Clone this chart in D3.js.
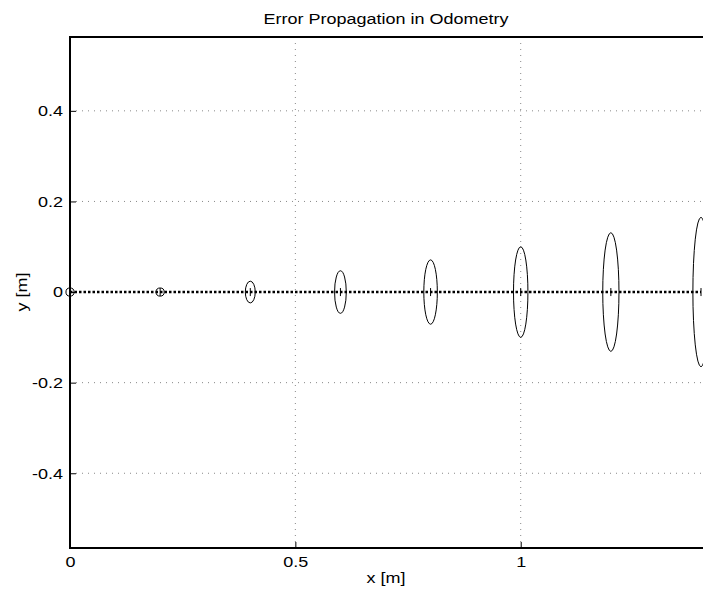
<!DOCTYPE html>
<html>
<head>
<meta charset="utf-8">
<script src="https://cdn.jsdelivr.net/npm/d3@7"></script>
<style>
  body { margin: 0; background: #fff; }
  svg { display: block; font-family: "Liberation Sans", Arial, sans-serif; }
</style>
</head>
<body>
<svg width="703" height="589"></svg>
<script>
// ---- data
const pathX = [0, 1.4];                       // straight odometry path along y = 0
const centersX = [0, 0.2, 0.4, 0.6, 0.8, 1.0, 1.2, 1.4];
const semiX = [0.009, 0.009, 0.011, 0.013, 0.015, 0.016, 0.018, 0.018];
const semiY = [0.009, 0.009, 0.024, 0.047, 0.071, 0.100, 0.131, 0.165];
const xTicks = [0, 0.5, 1];
const yTicks = [-0.4, -0.2, 0, 0.2, 0.4];

const svg = d3.select('svg');
const margin = { left: 70, top: 37, right: -4, bottom: 41 };
const W = 703, H = 589;
const innerW = W - margin.left - margin.right;
const innerH = H - margin.top - margin.bottom;
const FS = 15, SX = 1.2;   // text is drawn a little wide in the reference

const x = d3.scaleLinear().domain([0, 1.4]).range([0, 631]);
const y = d3.scaleLinear().domain([-0.565, 0.563]).range([innerH, 0]);

const g = svg.append('g').attr('transform', `translate(${margin.left},${margin.top})`);

// ---- grid
g.append('g').selectAll('line').data(xTicks.filter(d => d > 0)).join('line')
  .attr('x1', d => x(d)).attr('x2', d => x(d)).attr('y1', 0).attr('y2', innerH)
  .attr('stroke', '#888').attr('stroke-width', 1).attr('stroke-dasharray', '1 5');
g.append('g').selectAll('line').data(yTicks.filter(d => d !== 0)).join('line')
  .attr('x1', 0).attr('x2', innerW).attr('y1', d => y(d)).attr('y2', d => y(d))
  .attr('stroke', '#888').attr('stroke-width', 1).attr('stroke-dasharray', '1 5');

// ---- axes (ticks inside)
const fmt = d => d3.format('~g')(d).replace('−', '-');
const gx = g.append('g').attr('transform', `translate(0,${innerH})`)
  .call(d3.axisBottom(x).tickValues(xTicks).tickSize(-6).tickPadding(8).tickFormat(fmt));
const gy = g.append('g')
  .call(d3.axisLeft(y).tickValues(yTicks).tickSize(-6).tickPadding(7).tickFormat(fmt));
[gx, gy].forEach(a => {
  a.select('.domain').remove();
  a.selectAll('line').attr('stroke', '#000');
  a.selectAll('text')
    .attr('font-size', FS).attr('fill', '#000')
    .attr('font-family', '"Liberation Sans", Arial, sans-serif')
    .each(function () {
      const t = d3.select(this);
      t.attr('x', (+t.attr('x') || 0) / SX).attr('transform', `scale(${SX},1)`);
    });
});

// ---- frame
g.append('path')
  .attr('d', `M${innerW},0H0V${innerH}H${innerW}`)
  .attr('fill', 'none').attr('stroke', '#000').attr('stroke-width', 2);

// ---- path (dotted markers)
g.append('line')
  .attr('x1', x(pathX[0])).attr('x2', x(pathX[1]))
  .attr('y1', y(0)).attr('y2', y(0))
  .attr('stroke', '#000').attr('stroke-width', 2.5).attr('stroke-dasharray', '2.5 2');

// ---- covariance ellipses
const ell = centersX.map((c, i) => ({ c, rx: semiX[i], ry: semiY[i] }));
g.append('g').selectAll('ellipse').data(ell).join('ellipse')
  .attr('cx', d => x(d.c)).attr('cy', y(0))
  .attr('rx', d => x(d.rx) - x(0)).attr('ry', d => y(0) - y(d.ry))
  .attr('fill', 'none').attr('stroke', '#000').attr('stroke-width', 1);

// ---- centre markers
g.append('g').selectAll('line').data(centersX).join('line')
  .attr('x1', d => x(d)).attr('x2', d => x(d))
  .attr('y1', y(0) - 4).attr('y2', y(0) + 4)
  .attr('stroke', '#000').attr('stroke-width', 1);

// ---- labels
function label(px, py, txt, rot) {
  svg.append('text')
    .attr('transform', `translate(${px},${py})${rot ? ' rotate(-90)' : ''} scale(${SX},1)`)
    .attr('text-anchor', 'middle').attr('font-size', FS).text(txt);
}
label(386, 24, 'Error Propagation in Odometry');
label(386, 583, 'x [m]');
label(27, margin.top + y(0), 'y [m]', true);
</script>
</body>
</html>
